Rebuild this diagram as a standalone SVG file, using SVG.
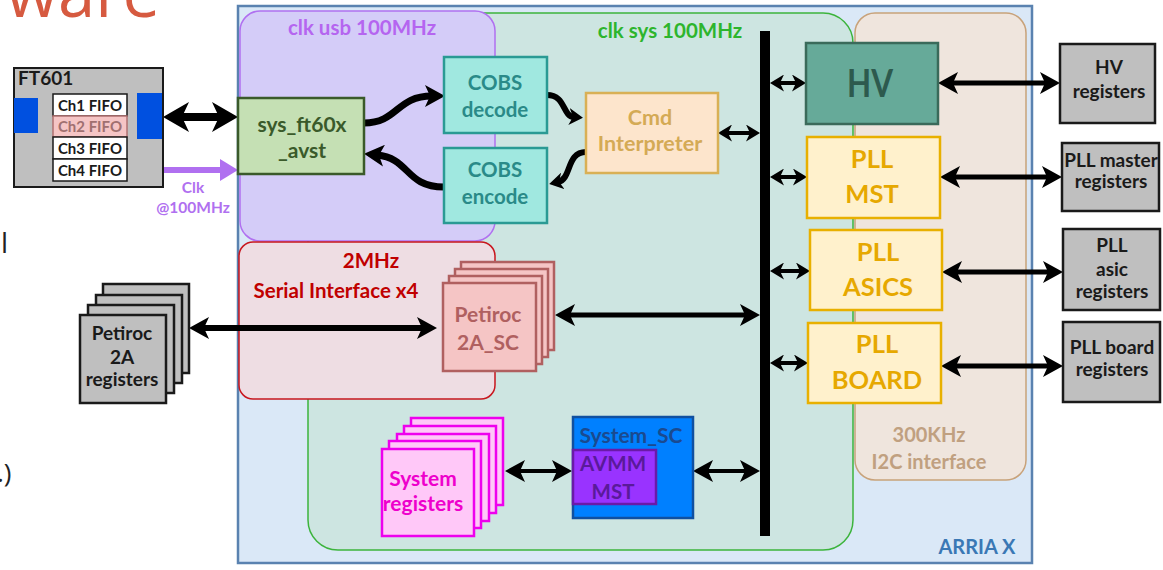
<svg xmlns="http://www.w3.org/2000/svg" width="1163" height="570" viewBox="0 0 1163 570">
<style>
text{font-family:Lato,"Open Sans","Liberation Sans",sans-serif;font-weight:bold;text-anchor:middle}
.reg{fill:#bfbfbf;stroke:#1a1a1a;stroke-width:2.5}
.regt{fill:#1a1a1a;font-size:19px}
.pll{fill:#fff1cc;stroke:#e8b000;stroke-width:2.5}
.pllt{fill:#e6a800;font-size:25.5px}
.cobs{fill:#a0e8e0;stroke:#2a9a94;stroke-width:2.5}
.cobst{fill:#2a8a88;font-size:20.5px}
.ln{stroke:#000;fill:none}
.psc{fill:#f5c5c5;stroke:#b06060;stroke-width:2.5}
.sreg{fill:#ffc8f8;stroke:#ee00ee;stroke-width:2.5}
.frag{font-family:"Open Sans","Liberation Sans",sans-serif;font-weight:normal;text-anchor:start}
</style>
<defs>
<marker id="hb" markerUnits="userSpaceOnUse" markerWidth="26" markerHeight="30" viewBox="0 0 26 30" refX="9" refY="15" orient="auto-start-reverse"><path d="M0,0 L26,15 L0,30 L7,15 Z" fill="#000"/></marker>
<marker id="hm" markerUnits="userSpaceOnUse" markerWidth="20" markerHeight="22" viewBox="0 0 20 22" refX="7" refY="11" orient="auto-start-reverse"><path d="M0,0 L20,11 L0,22 L5,11 Z" fill="#000"/></marker>
<marker id="hs" markerUnits="userSpaceOnUse" markerWidth="14" markerHeight="17" viewBox="0 0 14 17" refX="5" refY="8.5" orient="auto-start-reverse"><path d="M0,0 L14,8.5 L0,17 L4,8.5 Z" fill="#000"/></marker>
<marker id="hp" markerUnits="userSpaceOnUse" markerWidth="18" markerHeight="22" viewBox="0 0 18 22" refX="4" refY="11" orient="auto"><path d="M0,0 L18,11 L0,22 L0,11 Z" fill="#b070f0"/></marker>
</defs>
<rect width="1163" height="570" fill="#fff"/>

<!-- slide fragments -->
<text class="frag" x="6" y="17" font-size="67" fill="#d65a40">ware</text>
<text class="frag" x="1" y="253" font-size="28" fill="#222">l</text>
<text class="frag" x="-3" y="482" font-size="26" fill="#222">.)</text>

<!-- regions -->
<g id="arria">
<rect x="238" y="6" width="794" height="557" fill="#dae8f7" stroke="#5a82b0" stroke-width="2.5"/>
<text x="977" y="554" fill="#3a78b5" font-size="20">ARRIA X</text>
</g>
<g id="clk_sys">
<rect x="308" y="13" width="545" height="537" rx="30" fill="#cde5e1" stroke="#3cb43c" stroke-width="1.5"/>
<text x="670" y="38" fill="#2db52d" font-size="20.5">clk sys 100MHz</text>
</g>
<g id="i2c">
<rect x="855" y="13" width="171" height="467" rx="20" fill="#efe5dd" stroke="#c8a27a" stroke-width="1.5"/>
<text x="929" y="442" fill="#c0a080" font-size="20">300KHz</text>
<text x="929" y="469" fill="#c0a080" font-size="20">I2C interface</text>
</g>
<g id="clk_usb">
<rect x="240" y="11" width="255" height="230" rx="20" fill="#d4ccf8" stroke="#b070f0" stroke-width="1.5"/>
<text x="362" y="35" fill="#b565f0" font-size="20.5">clk usb 100MHz</text>
</g>
<g id="serial">
<rect x="239" y="242" width="256" height="157" rx="14" fill="#eedde3" stroke="#c8161e" stroke-width="1.5"/>
<text x="371" y="268" fill="#c00000" font-size="20.5">2MHz</text>
<text x="336" y="298" fill="#c00000" font-size="20.5">Serial Interface x4</text>
</g>

<!-- connectors -->
<g id="connectors">
<line class="ln" x1="765" y1="31" x2="765" y2="536" stroke-width="10"/>
<line class="ln" x1="180" y1="117" x2="221" y2="117" stroke-width="8" marker-start="url(#hb)" marker-end="url(#hb)"/>
<line x1="162" y1="170" x2="224" y2="170" stroke="#b070f0" stroke-width="6" marker-end="url(#hp)"/>
<path class="ln" d="M364,123 C398,123 396,96 432,96" stroke-width="7" marker-end="url(#hm)"/>
<path class="ln" d="M547,95 C566,95 562,116 574,117" stroke-width="6" marker-end="url(#hs)"/>
<path class="ln" d="M586,152 C566,152 572,179 558,182" stroke-width="6" marker-end="url(#hs)"/>
<path class="ln" d="M444,187 C405,187 410,158 377,155" stroke-width="7" marker-end="url(#hm)"/>
<line class="ln" x1="727" y1="133" x2="751" y2="133" stroke-width="4" marker-start="url(#hs)" marker-end="url(#hs)"/>
<line class="ln" x1="779" y1="83" x2="797" y2="83" stroke-width="4" marker-start="url(#hs)" marker-end="url(#hs)"/>
<line class="ln" x1="779" y1="177" x2="798" y2="177" stroke-width="4" marker-start="url(#hs)" marker-end="url(#hs)"/>
<line class="ln" x1="779" y1="271" x2="801" y2="271" stroke-width="4" marker-start="url(#hs)" marker-end="url(#hs)"/>
<line class="ln" x1="779" y1="363" x2="799" y2="363" stroke-width="4" marker-start="url(#hs)" marker-end="url(#hs)"/>
<line class="ln" x1="568" y1="315" x2="747" y2="315" stroke-width="5" marker-start="url(#hm)" marker-end="url(#hm)"/>
<line class="ln" x1="202" y1="328" x2="424" y2="328" stroke-width="6" marker-start="url(#hm)" marker-end="url(#hm)"/>
<line class="ln" x1="518" y1="471" x2="559" y2="471" stroke-width="4" marker-start="url(#hm)" marker-end="url(#hm)"/>
<line class="ln" x1="706" y1="471" x2="747" y2="471" stroke-width="4" marker-start="url(#hm)" marker-end="url(#hm)"/>
<line class="ln" x1="951" y1="83" x2="1047" y2="83" stroke-width="5" marker-start="url(#hm)" marker-end="url(#hm)"/>
<line class="ln" x1="953" y1="177" x2="1049" y2="177" stroke-width="5" marker-start="url(#hm)" marker-end="url(#hm)"/>
<line class="ln" x1="955" y1="272" x2="1050" y2="272" stroke-width="5" marker-start="url(#hm)" marker-end="url(#hm)"/>
<line class="ln" x1="954" y1="366" x2="1050" y2="366" stroke-width="5" marker-start="url(#hm)" marker-end="url(#hm)"/>
<text x="193" y="193" fill="#b070f0" font-size="15.5">Clk</text>
<text x="193" y="213" fill="#b070f0" font-size="15.5">@100MHz</text>
</g>

<!-- nodes -->
<g id="ft601">
<rect x="14" y="68" width="149" height="119" fill="#bfbfbf" stroke="#1a1a1a" stroke-width="2"/>
<text x="18" y="85" fill="#1a1a1a" font-size="19" style="text-anchor:start">FT601</text>
<rect x="14" y="98" width="24" height="35" fill="#0050e0"/>
<rect x="137" y="93" width="25" height="46" fill="#0050e0"/>
<rect x="53" y="94" width="74" height="22" fill="#fff" stroke="#1a1a1a" stroke-width="1.5"/>
<rect x="53" y="116" width="74" height="21" fill="#f5c5c5" stroke="#b07070" stroke-width="1.5"/>
<rect x="53" y="137" width="74" height="22" fill="#fff" stroke="#1a1a1a" stroke-width="1.5"/>
<rect x="53" y="159" width="74" height="22" fill="#fff" stroke="#1a1a1a" stroke-width="1.5"/>
<text x="90" y="111" fill="#1a1a1a" font-size="15" font-weight="normal">Ch1 FIFO</text>
<text x="90" y="132" fill="#a07070" font-size="15" font-weight="normal">Ch2 FIFO</text>
<text x="90" y="154" fill="#1a1a1a" font-size="15" font-weight="normal">Ch3 FIFO</text>
<text x="90" y="176" fill="#1a1a1a" font-size="15" font-weight="normal">Ch4 FIFO</text>
</g>
<g id="sys_ft60x">
<rect x="238" y="98" width="126" height="76" fill="#c5e0b4" stroke="#3a5a2a" stroke-width="2.5"/>
<text x="302" y="132" fill="#3a5a2a" font-size="21">sys_ft60x</text>
<text x="302" y="158" fill="#3a5a2a" font-size="21">_avst</text>
</g>
<g id="cobs_decode">
<rect class="cobs" x="444" y="57" width="103" height="76"/>
<text class="cobst" x="495" y="90">COBS</text>
<text class="cobst" x="495" y="117">decode</text>
</g>
<g id="cobs_encode">
<rect class="cobs" x="444" y="148" width="103" height="75"/>
<text class="cobst" x="495" y="177">COBS</text>
<text class="cobst" x="495" y="204">encode</text>
</g>
<g id="cmd">
<rect x="586" y="93" width="132" height="80" fill="#fde5cc" stroke="#d9b055" stroke-width="2.5"/>
<text x="650" y="125" fill="#d4aa55" font-size="21.5">Cmd</text>
<text x="650" y="151" fill="#d4aa55" font-size="21.5">Interpreter</text>
</g>
<g id="hv">
<rect x="806" y="43" width="132" height="81" fill="#66aa99" stroke="#3a6a5a" stroke-width="2.5"/>
<text x="870" y="97" fill="#2d5a4e" font-size="39" textLength="46" lengthAdjust="spacingAndGlyphs">HV</text>
</g>
<g id="pll_mst">
<rect class="pll" x="807" y="137" width="133" height="81"/>
<text class="pllt" x="872" y="168">PLL</text>
<text class="pllt" x="872" y="203">MST</text>
</g>
<g id="pll_asics">
<rect class="pll" x="810" y="230" width="132" height="80"/>
<text class="pllt" x="878" y="261">PLL</text>
<text class="pllt" x="878" y="296">ASICS</text>
</g>
<g id="pll_board">
<rect class="pll" x="808" y="323" width="133" height="80"/>
<text class="pllt" x="877" y="353">PLL</text>
<text class="pllt" x="877" y="389">BOARD</text>
</g>
<g id="hv_regs">
<rect class="reg" x="1060" y="44" width="95" height="79"/>
<text class="regt" x="1109" y="74" font-size="21">HV</text>
<text class="regt" x="1109" y="98" font-size="21">registers</text>
</g>
<g id="pll_master_regs">
<rect class="reg" x="1062" y="143" width="97" height="68"/>
<text class="regt" x="1111" y="167">PLL master</text>
<text class="regt" x="1111" y="188">registers</text>
</g>
<g id="pll_asic_regs">
<rect class="reg" x="1063" y="229" width="97" height="81"/>
<text class="regt" x="1112" y="252">PLL</text>
<text class="regt" x="1112" y="276">asic</text>
<text class="regt" x="1112" y="298">registers</text>
</g>
<g id="pll_board_regs">
<rect class="reg" x="1063" y="322" width="97" height="80"/>
<text class="regt" x="1112" y="354">PLL board</text>
<text class="regt" x="1112" y="376">registers</text>
</g>
<g id="petiroc_regs">
<rect class="reg" x="103" y="284" width="86" height="89"/>
<rect class="reg" x="96" y="295" width="86" height="88"/>
<rect class="reg" x="88" y="305" width="86" height="88"/>
<rect class="reg" x="80" y="315" width="86" height="88"/>
<text class="regt" x="122" y="340" font-size="18.5">Petiroc</text>
<text class="regt" x="122" y="364" font-size="18.5">2A</text>
<text class="regt" x="122" y="386" font-size="18.5">registers</text>
</g>
<g id="petiroc_sc">
<rect class="psc" x="461" y="262" width="93" height="88"/>
<rect class="psc" x="455" y="269" width="93" height="88"/>
<rect class="psc" x="449" y="276" width="93" height="88"/>
<rect class="psc" x="443" y="283" width="93" height="88"/>
<text x="488" y="322" fill="#b06060" font-size="21">Petiroc</text>
<text x="488" y="350" fill="#b06060" font-size="21">2A_SC</text>
</g>
<g id="system_regs">
<rect class="sreg" x="411" y="418" width="92" height="87"/>
<rect class="sreg" x="404" y="426" width="92" height="87"/>
<rect class="sreg" x="397" y="434" width="92" height="87"/>
<rect class="sreg" x="389" y="441" width="92" height="87"/>
<rect class="sreg" x="382" y="449" width="92" height="87"/>
<text x="423" y="486" fill="#ee00cc" font-size="21">System</text>
<text x="423" y="511" fill="#ee00cc" font-size="21">registers</text>
</g>
<g id="system_sc">
<rect x="573" y="417" width="120" height="101" fill="#0080ff" stroke="#1050a0" stroke-width="2.5"/>
<text x="631" y="443" fill="#1a4a90" font-size="21">System_SC</text>
<rect x="573" y="450" width="83" height="54" fill="#9933ff" stroke="#6a1aa8" stroke-width="2.5"/>
<text x="613" y="471" fill="#5a1a9a" font-size="20.5">AVMM</text>
<text x="613" y="499" fill="#5a1a9a" font-size="20.5">MST</text>
</g>
</svg>
